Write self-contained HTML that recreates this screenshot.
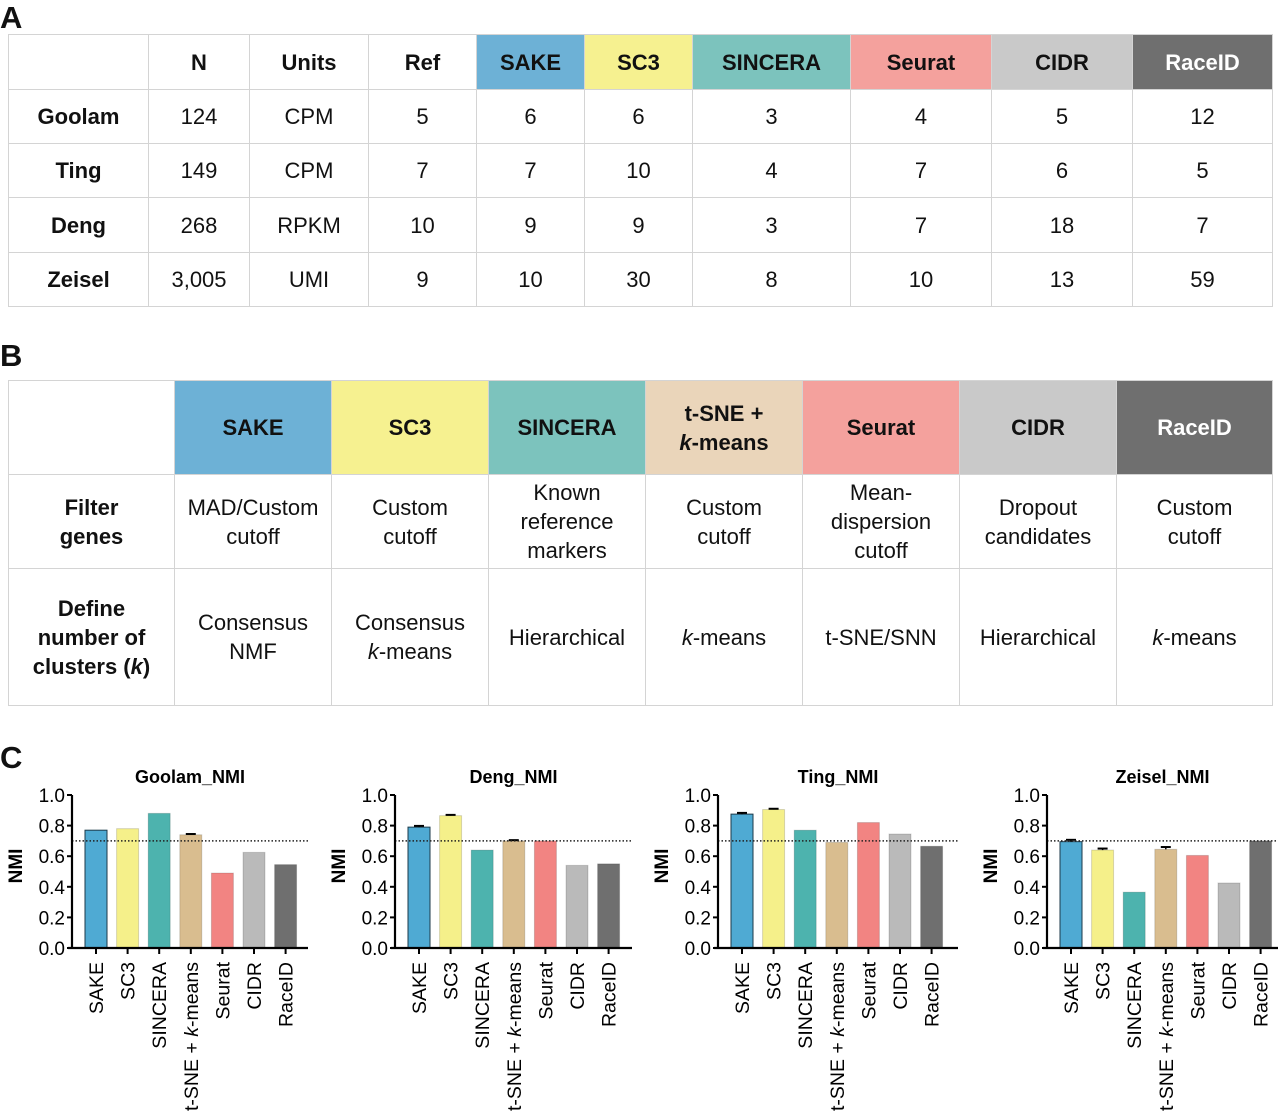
<!DOCTYPE html>
<html><head><meta charset="utf-8">
<style>
body{margin:0;width:1280px;height:1116px;background:#fff;font-family:"Liberation Sans",Arial,sans-serif;position:relative;overflow:hidden;color:#111}
.lbl{position:absolute;font-weight:bold;font-size:31px;line-height:36px}
.c{position:absolute;box-sizing:border-box;border:1px solid #d4d4d4;display:flex;align-items:center;justify-content:center;text-align:center;font-size:22px;line-height:29px}
.b{font-weight:bold}
svg{position:absolute;left:0;top:0}
</style></head><body>
<div class="lbl" style="left:0px;top:0px">A</div>
<div class="lbl" style="left:0px;top:338px">B</div>
<div class="lbl" style="left:0px;top:740px">C</div>
<div id="ta"></div>
<div id="tb"></div>
<svg id="chart" width="1280" height="1116"></svg>
<script>
// ---- Table A ----
var ax=[8,148,249,368,476,584,692,850,991,1132,1272];
var ay=[34,89,143,197,252,306];
var aHead=["","N","Units","Ref","SAKE","SC3","SINCERA","Seurat","CIDR","RaceID"];
var aBg=["#fff","#fff","#fff","#fff","#6db1d6","#f6f190","#7cc3bd","#f4a19d","#c9c9c9","#6f6f6f"];
var aRows=[["Goolam","124","CPM","5","6","6","3","4","5","12"],
["Ting","149","CPM","7","7","10","4","7","6","5"],
["Deng","268","RPKM","10","9","9","3","7","18","7"],
["Zeisel","3,005","UMI","9","10","30","8","10","13","59"]];
function cell(p,x0,x1,y0,y1,html,cls,bg,fg,name){
 var d=document.createElement('div');
 d.className='c '+(cls||'');
 d.style.left=x0+'px';d.style.top=y0+'px';d.style.width=(x1-x0+1)+'px';d.style.height=(y1-y0+1)+'px';
 if(bg)d.style.background=bg; if(fg)d.style.color=fg;
 d.innerHTML='<span>'+html+'</span>';
 
 
 p.appendChild(d);
}
var ta=document.getElementById('ta');
for(var i=0;i<aHead.length;i++) cell(ta,ax[i],ax[i+1],ay[0],ay[1],aHead[i],'b',aBg[i],i==9?'#fff':null,'header-cell');
for(var r=0;r<aRows.length;r++)for(var i=0;i<aRows[r].length;i++)
 cell(ta,ax[i],ax[i+1],ay[r+1],ay[r+2],aRows[r][i],i==0?'b':'',null,null,'data-cell');
// ---- Table B ----
var bx=[8,174,331,488,645,802,959,1116,1272];
var by=[380,474,568,705];
var bHead=["","SAKE","SC3","SINCERA","t-SNE +<br><i>k</i>-means","Seurat","CIDR","RaceID"];
var bBg=["#fff","#6db1d6","#f6f190","#7cc3bd","#ead5ba","#f4a19d","#c9c9c9","#6f6f6f"];
var bRows=[["Filter<br>genes","MAD/Custom<br>cutoff","Custom<br>cutoff","Known<br>reference<br>markers","Custom<br>cutoff","Mean-<br>dispersion<br>cutoff","Dropout<br>candidates","Custom<br>cutoff"],
["Define<br>number of<br>clusters (<i>k</i>)","Consensus<br>NMF","Consensus<br><i>k</i>-means","Hierarchical","<i>k</i>-means","t-SNE/SNN","Hierarchical","<i>k</i>-means"]];
var tb=document.getElementById('tb');
for(var i=0;i<bHead.length;i++) cell(tb,bx[i],bx[i+1],by[0],by[1],bHead[i],'b',bBg[i],i==7?'#fff':null,'header-cell');
for(var r=0;r<bRows.length;r++)for(var i=0;i<bRows[r].length;i++)
 cell(tb,bx[i],bx[i+1],by[r+1],by[r+2],bRows[r][i],i==0?'b':'',null,null,'data-cell');

// ---- Charts ----
var methods=["SAKE","SC3","SINCERA","t-SNE + k-means","Seurat","CIDR","RaceID"];
var colors=["#4faad3","#f5f08a","#4db3ae","#d9bd8f","#f28482","#bababa","#6f6f6f"];
var titles=["Goolam_NMI","Deng_NMI","Ting_NMI","Zeisel_NMI"];
var goolam=[0.77,0.78,0.88,0.74,0.49,0.625,0.545];
var deng=[0.79,0.865,0.64,0.70,0.70,0.54,0.55];
var ting=[0.875,0.905,0.77,0.69,0.82,0.745,0.665];
var zeisel=[0.695,0.64,0.365,0.645,0.605,0.425,0.70];
var goolamErr=[0,0,0,0.005,0,0,0];
var dengErr=[0.008,0.005,0,0.005,0,0,0];
var tingErr=[0.008,0.005,0,0,0,0,0];
var zeiselErr=[0.012,0.01,0,0.015,0,0,0];
var yTicks=["0.0","0.2","0.4","0.6","0.8","1.0"];
var threshold=0.7;
var series=[goolam,deng,ting,zeisel];
var errs=[goolamErr,dengErr,tingErr,zeiselErr];
var axisX=[72,395,718,1047];
var axisEnd=[308,632,958,1278];
var y0=948,y1=795;
var NS='http://www.w3.org/2000/svg';
var svg=document.getElementById('chart');
function mk(t,a,p){var e=document.createElementNS(NS,t);for(var k in a)e.setAttribute(k,a[k]);(p||svg).appendChild(e);return e;}
function yS(v){return y0-(y0-y1)*v;}
for(var p=0;p<4;p++){
 var g=mk('g',{});
 
 
 var X=axisX[p];
 var xS=function(i){return X+24+i*31.6;};
 var t=mk('text',{x:(X+axisEnd[p])/2,y:783,'text-anchor':'middle','font-size':18,'font-weight':'bold'},g);t.textContent=titles[p];
 
 
 var yl=mk('text',{x:0,y:0,transform:'translate('+(X-50)+',866) rotate(-90)','text-anchor':'middle','font-size':19,'font-weight':'bold'},g);yl.textContent='NMI';
 
 
 for(var i=0;i<series[p].length;i++){
  var v=series[p][i],cx=xS(i);
  var r=mk('rect',{x:cx-11,y:yS(v),width:22,height:y0-yS(v),fill:colors[i],stroke:i==0?'#1d3a4a':'rgba(0,0,0,0.15)','stroke-width':1},g);
  
  
  if(errs[p][i]>0){
   var e=errs[p][i];
   mk('line',{x1:cx,x2:cx,y1:yS(v+e),y2:yS(v),stroke:'#000','stroke-width':1.5},g);
   mk('line',{x1:cx-5,x2:cx+5,y1:yS(v+e),y2:yS(v+e),stroke:'#000','stroke-width':2},g);
  }
  mk('line',{x1:cx,x2:cx,y1:y0,y2:y0+6,stroke:'#000','stroke-width':2},g);
  var lab=mk('text',{x:0,y:0,transform:'translate('+(cx+7)+','+(y0+14)+') rotate(-90)','text-anchor':'end','font-size':19.5},g);
  if(i==3){lab.innerHTML='t-SNE + <tspan font-style="italic">k</tspan>-means';}else lab.textContent=methods[i];
  
  
 }
 mk('line',{x1:X,x2:axisEnd[p],y1:yS(threshold),y2:yS(threshold),stroke:'#222','stroke-width':1.5,'stroke-dasharray':'1.5,2'},g);
 mk('line',{x1:X,x2:X,y1:y1,y2:y0+1,stroke:'#000','stroke-width':2.2},g);
 mk('line',{x1:X-4,x2:axisEnd[p],y1:y0,y2:y0,stroke:'#000','stroke-width':2.2},g);
 for(var k=0;k<yTicks.length;k++){
  var yy=yS(k*0.2);
  mk('line',{x1:X-5,x2:X,y1:yy,y2:yy,stroke:'#000','stroke-width':2},g);
  var tl=mk('text',{x:X-7,y:yy+7,'text-anchor':'end','font-size':19},g);tl.textContent=yTicks[k];
  
  
 }
}
</script>
</body></html>
